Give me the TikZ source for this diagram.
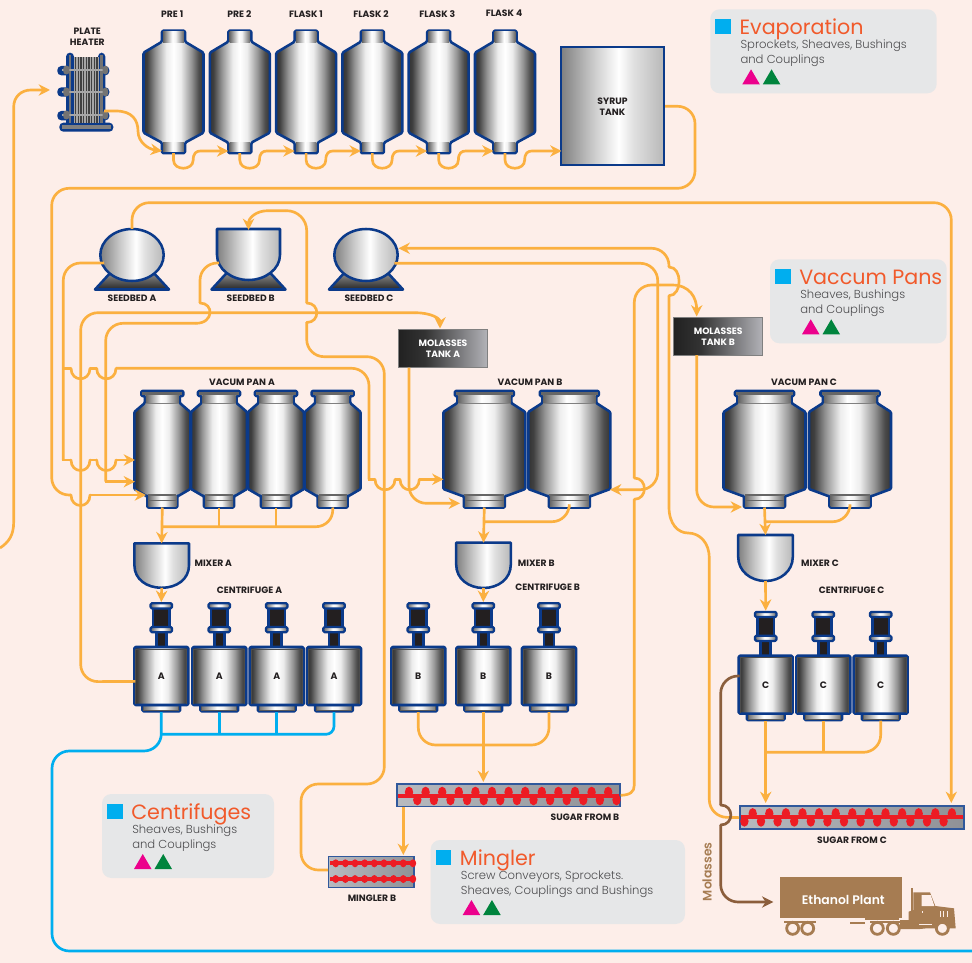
\documentclass[tikz,border=0pt]{standalone}
\usepackage{fontspec}
\setmainfont{Poppins}
\newfontfamily\lblf{Poppins Bold}
\newfontfamily\semif{Poppins SemiBold}
\newfontfamily\ltf{Poppins Light}
\usetikzlibrary{arrows.meta}
\definecolor{bgc}{HTML}{FDEEE9}
\definecolor{vb}{HTML}{0B3A8A}
\definecolor{pipec}{HTML}{FBB040}
\definecolor{bluec}{HTML}{00AEEF}
\definecolor{brownp}{HTML}{8B5E3C}
\definecolor{truckc}{HTML}{A67C52}
\definecolor{boxc}{HTML}{E6E7E8}
\definecolor{titlec}{HTML}{F15A2B}
\definecolor{bodyc}{HTML}{4D4D4F}
\definecolor{magc}{HTML}{EC008C}
\definecolor{grnc}{HTML}{00843D}
\definecolor{redc}{HTML}{ED1C24}
\definecolor{ink}{HTML}{231F20}
\pgfdeclarehorizontalshading{metalbody}{100bp}{rgb(0bp)=(.2,.2,.2); rgb(25bp)=(.2,.2,.2); rgb(28bp)=(.25,.25,.25); rgb(35bp)=(.58,.58,.58); rgb(44bp)=(.93,.93,.93); rgb(50bp)=(1,1,1); rgb(56bp)=(.93,.93,.93); rgb(65bp)=(.58,.58,.58); rgb(71bp)=(.3,.3,.3); rgb(75bp)=(.2,.2,.2); rgb(100bp)=(.2,.2,.2)}
\pgfdeclarehorizontalshading{metallight}{100bp}{rgb(0bp)=(.5,.5,.5); rgb(25bp)=(.5,.5,.5); rgb(40bp)=(.78,.78,.78); rgb(53bp)=(1,1,1); rgb(60bp)=(.88,.88,.88); rgb(75bp)=(.72,.72,.72); rgb(100bp)=(.72,.72,.72)}
\pgfdeclarehorizontalshading{metalneck}{100bp}{rgb(0bp)=(.4,.4,.4); rgb(25bp)=(.4,.4,.4); rgb(47bp)=(1,1,1); rgb(55bp)=(.95,.95,.95); rgb(75bp)=(.4,.4,.4); rgb(100bp)=(.4,.4,.4)}
\pgfdeclarehorizontalshading{darktank}{100bp}{rgb(0bp)=(.13,.13,.13); rgb(25bp)=(.13,.13,.13); rgb(40bp)=(.2,.2,.2); rgb(75bp)=(.7,.7,.72); rgb(100bp)=(.7,.7,.72)}
\pgfdeclarehorizontalshading{convshade}{100bp}{rgb(0bp)=(.72,.73,.75); rgb(25bp)=(.72,.73,.75); rgb(75bp)=(.56,.57,.59); rgb(100bp)=(.56,.57,.59)}
\def\R{13pt}
\newcommand\hoph[3]{\draw[pipe,line cap=round] (#1,#3) .. controls (#1,#3+14) and (#2,#3+14) .. (#2,#3);}
\newcommand\hopv[3]{\draw[pipe,line cap=round] (#1,#2) .. controls (#1+13.5,#2) and (#1+13.5,#3) .. (#1,#3);}
\tikzset{
  eq/.style={draw=vb,line width=1.9pt,line join=round},
  lbl/.style={font={\lblf\fontsize{6.9}{8.2}\selectfont},text=ink,inner sep=0pt,align=center},
  pipe/.style={draw=pipec,line width=2pt,line cap=butt},
  pipea/.style={pipe,-{Stealth[length=8.5pt,width=8.5pt]}},
  piper/.style={pipe,{Stealth[length=8.5pt,width=8.5pt]}-},
  bpipe/.style={draw=bluec,line width=2pt},
  brpipe/.style={draw=brownp,line width=2pt},
  conv/.style={draw=vb!85!white,line width=1.2pt,shading=convshade,inner sep=0pt},
  pics/evap/.style={code={
    \shade[eq,shading=metalbody,rounded corners=1pt] (-11.5,0) -- (11.5,0) -- (11.5,11) -- (30,22) -- (30,102) -- (11.5,112) -- (11.5,122.5) -- (-11.5,122.5) -- (-11.5,112) -- (-30,102) -- (-30,22) -- (-11.5,11) -- cycle;
    \shade[shading=metalneck] (-10.3,1.2) rectangle (10.3,11.5);
    \shade[shading=metalneck] (-10.3,111.5) rectangle (10.3,121.3);
    \coordinate (-bot) at (0,122.5);
    \coordinate (-in) at (-11.5,120.3);
  }},
  pics/vacpan/.style n args={5}{code={
    \shade[eq,shading=metalbody,rounded corners=.8pt] (-#2,0) -- (#2,0) -- (#2,5) -- (#3,5) -- (#3,12) -- (#1,21) -- (#1,98) -- (#4,105) -- (#5,105) -- (#5,116.5) -- (-#5,116.5) -- (-#5,105) -- (-#4,105) -- (-#1,98) -- (-#1,21) -- (-#3,12) -- (-#3,5) -- (-#2,5) -- cycle;
    \shade[shading=metalneck] (-#3+1,4) rectangle (#3-1,12);
    \fill[black!60] (-#2+1,1.2) rectangle (#2-1,4);
    \draw[black!50,line width=.8pt] (-#3+1,12.5) -- (#3-1,12.5);
    \shade[shading=metalneck] (-#5+1,104) rectangle (#5-1,115.3);
    \draw[black!60,line width=.8pt] (-#4+2,104) -- (#4-2,104) (-#5+1,109.5) -- (#5-1,109.5);
    \coordinate (-bot) at (0,116.5);
  }},
  pics/seedball/.style={code={
    \shade[eq,top color=black!40,bottom color=black!85] (-20,42) -- (-37,60.5) -- (37,60.5) -- (20,42) -- cycle;
    \shade[eq,shading=metallight] (0,26) ellipse [x radius=31.7,y radius=26];
    \coordinate (-top) at (0,0);
    \coordinate (-l) at (-28,34);
    \coordinate (-in) at (32.5,19.3);
    \coordinate (-out) at (28.3,34.3);
  }},
  pics/seedflat/.style={code={
    \shade[eq,top color=black!40,bottom color=black!85] (-20,42) -- (-37,60.5) -- (37,60.5) -- (20,42) -- cycle;
    \shade[eq,shading=metallight] (-31.5,0) -- (31.5,0) -- (31.5,26) .. controls (31.5,40) and (17,51) .. (0,51) .. controls (-17,51) and (-31.5,40) .. (-31.5,26) -- cycle;
    \coordinate (-top) at (0,1);
    \coordinate (-l) at (-29.3,34);
  }},
  pics/mixer/.style={code={
    \shade[eq,shading=metallight] (-27.3,0) -- (27.3,0) -- (27.3,22) .. controls (27.3,36) and (15,#1) .. (0,#1) .. controls (-15,#1) and (-27.3,36) .. (-27.3,22) -- cycle;
    \coordinate (-top) at (0,0);
    \coordinate (-bot) at (0,#1);
  }},
  pics/centri/.style={code={
    \fill[ink,draw=vb,line width=1.9pt] (-5,30) rectangle (5,46);
    \fill[ink,draw=vb,line width=1.9pt] (-8.3,5) rectangle (8.3,26);
    \shade[eq,line width=1.7pt,shading=metalneck,rounded corners=1pt] (-10.7,1.2) rectangle (10.7,6.4);
    \shade[eq,line width=1.7pt,shading=metalneck,rounded corners=1pt] (-10.7,25) rectangle (10.7,30.2);
    \shade[eq,line width=1.7pt,shading=metalneck,rounded corners=1pt] (-19,103) rectangle (19,109.5);
    \draw[black!65,line width=.7pt] (-17.5,103) -- (-17.5,108.5) -- (17.5,108.5) -- (17.5,103);
    \shade[eq,shading=metalbody,rounded corners=1pt] (-27,45) rectangle (27,103);
    \draw[black!70,line width=.7pt] (-25.5,102.2) -- (-25.5,47) -- (25.5,47) -- (25.5,102.2);
    \node[lbl,font={\lblf\fontsize{7}{8}\selectfont}] (-lab) at (0,74.5) {#1};
    \coordinate (-bot) at (0,110);
    \coordinate (-top) at (0,0);
    \coordinate (-l) at (-26,79.4);
    \coordinate (-u) at (-26,65.3);
  }},
  pics/infobox/.style n args={5}{code={
    \fill[boxc,rounded corners=7pt] (0,0) rectangle (#1,#2);
    \fill[bluec] (5,10) rectangle (20.5,25);
    \node[anchor=base west,inner sep=0pt,text=titlec,font={\fontsize{15.5}{18}\selectfont}] (-title) at (29,25) {#3};
    \node[anchor=base west,inner sep=0pt,text=bodyc,font={\ltf\fontsize{8.7}{10}\selectfont}] (-la) at (30,39) {#4};
    \node[anchor=base west,inner sep=0pt,text=bodyc,font={\ltf\fontsize{8.7}{10}\selectfont}] (-lb) at (30,54) {#5};
    \fill[magc] (32,75) -- (49.5,75) -- (40.75,60) -- cycle;
    \fill[grnc] (52.5,75) -- (70,75) -- (61.25,60) -- cycle;
  }},
}
\begin{document}
\begin{tikzpicture}[x=.75pt,y=-.75pt]
\useasboundingbox (0,0) rectangle (972,963);
\fill[bgc] (0,0) rectangle (972,963);
\clip (0,0) rectangle (972,963);

% info boxes
\pic (ibevap) at (710.3,9.3) {infobox={226.4}{84}{Evaporation}{Sprockets, Sheaves, Bushings}{and Couplings}};
\pic (ibvac) at (770,259.3) {infobox={176.7}{84}{Vaccum Pans}{Sheaves, Bushings}{and Couplings}};
\pic (ibcen) at (102,794) {infobox={172}{84}{Centrifuges}{Sheaves, Bushings}{and Couplings}};
\pic (ibmin) at (430.7,840) {infobox={254.3}{84}{Mingler}{Screw Conveyors, Sprockets.}{Sheaves, Couplings and Bushings}};

% plate heater
\begin{scope}[shift={(40,30)},x=.25pt,y=-.25pt]
  \fill[vb,rounded corners=3pt] (78,68) rectangle (102,290);
  \fill[vb,rounded corners=3pt] (174,68) rectangle (196,290);
  \fill[vb] (88,82) rectangle (190,290);
  \foreach \yy in {108,172,243} \fill[vb,rounded corners=3pt] (52,\yy) rectangle (208,\yy+28);
  \fill[vb,rounded corners=3pt] (58,278) rectangle (220,305);
  \fill[black!35] (103,80) rectangle (178,280);
  \foreach \xx in {105,113,...,175} \fill[black!75] (\xx,80) rectangle (\xx+3.5,280);
  \fill[black!55] (86,75) rectangle (94,278);
  \fill[black!55] (181,75) rectangle (189,278);
  \foreach \yy in {120,186,255} {
    \fill[black!35] (65,\yy-3) rectangle (195,\yy+3);
    \fill[black!55,rounded corners=2pt] (70,\yy-13) rectangle (88,\yy+13);
    \fill[black!55,rounded corners=2pt] (188,\yy-13) rectangle (204,\yy+13);
  }
  \fill[black!50] (66,285) rectangle (212,298);
\end{scope}
\coordinate (heatin) at (50,90);
\coordinate (heatout) at (104,111);

% evaporators
\pic (e1) at (173.5,30.7) {evap};
\pic (e2) at (239.8,30.7) {evap};
\pic (e3) at (306.1,30.7) {evap};
\pic (e4) at (372.4,30.7) {evap};
\pic (e5) at (438.7,30.7) {evap};
\pic (e6) at (505,30.7) {evap};
\node[draw=vb,line width=1.5pt,shading=metallight,minimum width=77.6pt,minimum height=88.6pt,inner sep=0pt,lbl] (syrup) at (612.5,106.3) {SYRUP\\TANK};
\coordinate (syrupin) at (561.5,151);

% seedbeds
\pic (sa) at (132,229) {seedball};
\pic (sb) at (248.5,229) {seedflat};
\pic (sc) at (366,229) {seedball};

% molasses tanks
\node[draw=black!50,line width=.6pt,shading=darktank,minimum width=66.5pt,minimum height=28.3pt,inner sep=0pt,lbl,text=white] (mta) at (443,348.5) {MOLASSES\\TANK A};
\node[draw=black!50,line width=.6pt,shading=darktank,minimum width=66.5pt,minimum height=28.3pt,inner sep=0pt,lbl,text=white] (mtb) at (718.2,336.4) {MOLASSES\\TANK B};
\coordinate (mtain) at (440,328.5);
\coordinate (mtbin) at (696.7,316.5);
\coordinate (mtaout) at (409,367.7);
\coordinate (mtbout) at (696.7,355);

% vacuum pans
\pic (pa1) at (162.3,391) {vacpan={28}{21}{17.5}{16}{15}};
\pic (pa4) at (332.7,391) {vacpan={28}{21}{17.5}{16}{15}};
\pic (pa3) at (276,391) {vacpan={28}{21}{17.5}{16}{15}};
\pic (pa2) at (219,391) {vacpan={28}{21}{17.5}{16}{15}};
\pic (pb1) at (484.3,391) {vacpan={41}{29.5}{27}{22}{20.5}};
\pic (pb2) at (569.3,391) {vacpan={41}{29.5}{27}{22}{20.5}};
\pic (pc1) at (764.5,391) {vacpan={41}{29.5}{27}{22}{20.5}};
\pic (pc2) at (850,391) {vacpan={41}{29.5}{27}{22}{20.5}};

% mixers
\pic (ma) at (161.7,543.3) {mixer={44.5}};
\pic (mb) at (483.5,542.7) {mixer={45.3}};
\pic (mc) at (765.5,535) {mixer={46}};

% centrifuges
\pic (ca1) at (161.3,602) {centri={A}};
\pic (ca2) at (219.3,602) {centri={A}};
\pic (ca3) at (276.7,602) {centri={A}};
\pic (ca4) at (334,602) {centri={A}};
\pic (cb1) at (418.3,602) {centri={B}};
\pic (cb2) at (483.3,602) {centri={B}};
\pic (cb3) at (549,602) {centri={B}};
\pic (cc1) at (765.7,610.7) {centri={C}};
\pic (cc2) at (823.3,610.7) {centri={C}};
\pic (cc3) at (880.7,610.7) {centri={C}};

% conveyors
\node[conv,minimum width=167.4pt,minimum height=17pt] (sfb) at (508.3,795.3) {};
\foreach \i in {0,...,12} {
  \fill[redc] (409+16.6*\i,792.2) ellipse [x radius=4.2,y radius=5.5];
  \fill[redc] (417.3+16.6*\i,799.8) ellipse [x radius=4.2,y radius=5.5];
}
\fill[redc] (398,794) rectangle (619,798);
\node[conv,minimum width=168pt,minimum height=17.5pt] (sfc) at (852,817.6) {};
\foreach \i in {0,...,12} {
  \fill[redc] (752.7+16.6*\i,813.6) ellipse [x radius=4.2,y radius=5.5];
  \fill[redc] (744.4+16.6*\i,821.2) ellipse [x radius=4.2,y radius=5.5];
}
\fill[redc] (741,815.4) rectangle (963,819.4);
\node[conv,minimum width=64pt,minimum height=23pt] (ming) at (371.2,872) {};
\foreach \i in {0,...,8} {
  \fill[redc] (335.7+9.65*\i,863.3) ellipse [x radius=3.3,y radius=4];
  \fill[redc] (335.7+9.65*\i,879) ellipse [x radius=3.3,y radius=4];
}
\fill[redc] (330,861.3) rectangle (413,865.3);
\fill[redc] (330,877) rectangle (413,881);

% truck
\begin{scope}[shift={(680,590)},x=.25pt,y=-.25pt]
  \fill[truckc] (300,860) rectangle (665,985);
  \node[font={\semif\fontsize{9.3}{11}\selectfont},text=white,inner sep=0pt] (plant) at (490,930) {Ethanol Plant};
  \fill[truckc] (555,980) rectangle (658,990);
  \fill[truckc] (510,995) rectangle (555,1003);
  \fill[truckc] (312,993) rectangle (408,999);
  \fill[truckc] (570,993) rectangle (665,999);
  \fill[truckc] (660,1000) -- (660,990) -- (686,990) -- (686,965) -- (700,960) -- (700,907) -- (750,907) -- (766,948) -- (822,955) -- (827,1015) -- (740,1015) -- (720,1017) -- (660,1017) -- cycle;
  \fill[truckc] (693,895) rectangle (698,985);
  \fill[bgc] (725,915) -- (752,915) -- (763,948) -- (725,948) -- cycle;
  \foreach \xx in {780,790,800} \fill[bgc] (\xx,963) rectangle (\xx+3,980);
  \fill[bgc] (725,962) rectangle (729,970);
  \fill[bgc] (716,1003) rectangle (755,1006);
  \foreach \xx in {338,383,592,640,787} {
    \filldraw[fill=bgc,draw=truckc,line width=2.1pt] (\xx,1015) circle [radius=18];
  }
\end{scope}
\node[rotate=90,font={\semif\fontsize{9.3}{11}\selectfont},text=truckc,inner sep=0pt] (mol) at (707,871.7) {Molasses};

% labels
\node[lbl] (lheat) at (87.3,36.7) {PLATE\\HEATER};
\node[lbl] (lp1) at (172.3,13.7) {PRE 1};
\node[lbl] (lp2) at (239.3,13.7) {PRE 2};
\node[lbl] (lf1) at (306,13.7) {FLASK 1};
\node[lbl] (lf2) at (371,13.7) {FLASK 2};
\node[lbl] (lf3) at (437.3,13.7) {FLASK 3};
\node[lbl] (lf4) at (504,13.7) {FLASK 4};
\node[lbl] (lsa) at (132,298.5) {SEEDBED A};
\node[lbl] (lsb) at (250.7,298.5) {SEEDBED B};
\node[lbl] (lsc) at (369,298.5) {SEEDBED C};
\node[lbl] (lva) at (242,382.7) {VACUM PAN A};
\node[lbl] (lvb) at (530,382.7) {VACUM PAN B};
\node[lbl] (lvc) at (804,382.7) {VACUM PAN C};
\node[lbl] (lma) at (213.3,563.7) {MIXER A};
\node[lbl] (lmb) at (536.3,563.3) {MIXER B};
\node[lbl] (lmc) at (820,563.7) {MIXER C};
\node[lbl] (lca) at (249.5,590) {CENTRIFUGE A};
\node[lbl] (lcb) at (547.7,587.3) {CENTRIFUGE B};
\node[lbl] (lcc) at (851.7,590) {CENTRIFUGE C};
\node[lbl] (lsfb) at (585,817.3) {SUGAR FROM B};
\node[lbl] (lsfc) at (852,840.7) {SUGAR FROM C};
\node[lbl] (lmg) at (372,898) {MINGLER B};

% evaporation pipes
\draw[pipea] (heatout) -- (116,111) .. controls (132,111) and (138,120) .. (138,131) .. controls (138,142) and (148,149) .. (e1-in);
\foreach \a/\x/\b in {e1/173.5/e2-in,e2/239.8/e3-in,e3/306.1/e4-in,e4/372.4/e5-in,e5/438.7/e6-in,e6/505/syrupin} {
  \draw[pipea] (\a-bot) -- (\x,160) .. controls (\x,171) and (\x+19.7,171) .. (\x+19.7,160) .. controls (\x+19.7,153) and (\x+23,151) .. (\x+27,151) -- (\b);
}
\coordinate (feed) at (0,548);
\draw[pipea] (feed) .. controls (9,542) and (13.7,535) .. (13.7,522) -- (13.7,107) .. controls (13.7,97) and (21,90) .. (31,90) -- (heatin);

% syrup to pan A
\draw[pipe,rounded corners=\R] (syrup.east) -- (695,106.3) -- (695,188.3) -- (51.7,188.3) -- (51.7,495) -- (71,495);
\hoph{71}{90}{495}
\draw[pipea] (90,495) -- (146,495);
% seedbed A top to sugar C
\draw[pipea,rounded corners=\R] (sa-top) -- (132,202.7) -- (951.3,202.7) -- (951.3,803);
% mingler to seedbed B
\draw[piper] (sb-top) .. controls (248.5,218) and (256,210.7) .. (268,210.7) -- (285,210.7);
\draw[pipe,rounded corners=15pt] (285,210.7) -- (306.7,210.7) -- (306.7,303);
\hopv{306.7}{303}{322.5}
\draw[pipe,rounded corners=\R] (306.7,322.5) -- (306.7,356.7) -- (384.3,356.7) -- (384.3,784) -- (301,784) -- (301,870) -- (328,870);
% seedbed A left
\draw[pipe,rounded corners=\R] (sa-l) -- (63.3,263) -- (63.3,460);
\draw[pipe] (62.3,460) -- (71,460);
\hoph{71}{90}{460}
\draw[pipe] (90,460) -- (96.7,460);
\hoph{96.7}{116}{460}
\draw[pipea] (116,460) -- (135,460);
\coordinate (branch) at (63.3,368.3);
\draw[pipe] (branch) -- (71,368.3);
\hoph{71}{90}{368.3}
\draw[pipe] (90,368.3) -- (96.7,368.3);
\hoph{96.7}{116}{368.3}
\draw[pipe,rounded corners=\R] (116,368.3) -- (369,368.3) -- (369,479.3);
\draw[pipe] (368,479.3) -- (375,479.3);
\hoph{375}{395}{479.3}
\draw[pipe] (395,479.3) -- (400,479.3);
\hoph{400}{419.3}{479.3}
\draw[pipea] (419.3,479.3) -- (443.5,479.3);
% seedbed B left
\draw[pipe,rounded corners=\R] (sb-l) -- (200,263) -- (200,303);
\draw[pipe,line cap=round] (200,303) .. controls (214,303) and (214,323.3) .. (196,323.3);
\draw[pipe,rounded corners=\R] (196,323.3) -- (105.7,323.3) -- (105.7,481.7);
\draw[pipea] (104.7,481.7) -- (135,481.7);
% centrifuge A to molasses A
\draw[pipe,rounded corners=\R] (ca1-l) -- (80.7,681.7) -- (80.7,312.7) -- (415,312.7);
\draw[pipea] (415,312.7) .. controls (430,312.7) and (440,318) .. (mtain);
% sugar C to seedbed C
\draw[piper,rounded corners=\R] (sc-in) -- (669,248.3) -- (669,267);
\hopv{669}{267}{295.7}
\draw[pipe] (669,295.7) -- (669,507) .. controls (669,524) and (678,533) .. (688,533) .. controls (700,533) and (709.3,543) .. (709.3,558);
\draw[pipe,rounded corners=\R] (709.3,558) -- (709.3,817) -- (sfc.west);
% seedbed C to pan B
\draw[pipea,rounded corners=\R] (sc-out) -- (657.7,263.3) -- (657.7,489.7) -- (610,489.7);
% sugar B to molasses B
\draw[piper] (mtbin) .. controls (696.7,298) and (690,285) .. (672,285) -- (660,285);
\draw[pipe,rounded corners=\R] (660,285) -- (634.3,285) -- (634.3,478);
\hopv{634.3}{478}{499.3}
\draw[pipe] (634.3,499.3) -- (634.3,785) .. controls (634.3,792) and (630,795) .. (sfb.east);
% molasses tanks out
\draw[pipea,rounded corners=\R] (mtaout) -- (409,503.3) -- (460,503.3);
\draw[pipea,rounded corners=\R] (mtbout) -- (696.7,507) -- (742,507);
% pan A
\draw[pipea] (pa1-bot) -- (ma-top);
\coordinate (ja) at (161.7,526.7);
\draw[pipe,rounded corners=\R] (ja) -- (333.3,526.7) -- (pa4-bot);
\draw[pipe] (pa2-bot) -- (219,526.7);
\draw[pipe] (pa3-bot) -- (276,526.7);
\draw[pipea] (ma-bot) -- (ca1-top);
% pan B
\draw[pipea] (pb1-bot) -- (mb-top);
\coordinate (jb) at (484.3,521.7);
\draw[pipe,rounded corners=\R] (jb) -- (569.3,521.7) -- (pb2-bot);
\draw[pipea] (mb-bot) -- (cb2-top);
% pan C
\draw[pipea] (pc1-bot) -- (mc-top);
\coordinate (jc) at (764.5,521.7);
\draw[pipe,rounded corners=\R] (jc) -- (850,521.7) -- (pc2-bot);
\draw[pipea] (mc-bot) -- (cc1-top);
% centrifuge B
\draw[pipea] (cb2-bot) -- (483.3,782);
\draw[pipe,rounded corners=\R] (cb1-bot) -- (418.3,745) -- (549,745) -- (cb3-bot);
\coordinate (sfbout) at (403.3,807);
\coordinate (mingin) at (403.3,855);
\draw[pipea] (sfbout) -- (mingin);
% centrifuge C
\draw[pipea] (cc1-bot) -- (765.7,803);
\coordinate (jd) at (765.7,752.3);
\draw[pipe,rounded corners=\R] (jd) -- (880.7,752.3) -- (cc3-bot);
\draw[pipe] (cc2-bot) -- (823.3,752.3);
% blue
\draw[bpipe,rounded corners=\R] (ca1-bot) -- (161.3,751) -- (52,751) -- (52,951) -- (980,951);
\coordinate (je) at (161.3,734.3);
\draw[bpipe,rounded corners=6pt] (je) -- (334,734.3) -- (ca4-bot);
\draw[bpipe] (ca2-bot) -- (219.3,734.3);
\draw[bpipe] (ca3-bot) -- (276.7,734.3);
% brown
\draw[brpipe,rounded corners=\R] (cc1-u) -- (720.7,676) -- (720.7,805);
\draw[brpipe,line cap=round] (720.7,805) .. controls (734.2,805) and (734.2,825) .. (720.7,825);
\draw[brpipe,rounded corners=\R,-{Stealth[length=8.5pt,width=8.5pt]}] (720.7,825) -- (720.7,902) -- (773.3,902);
\end{tikzpicture}
\end{document}
